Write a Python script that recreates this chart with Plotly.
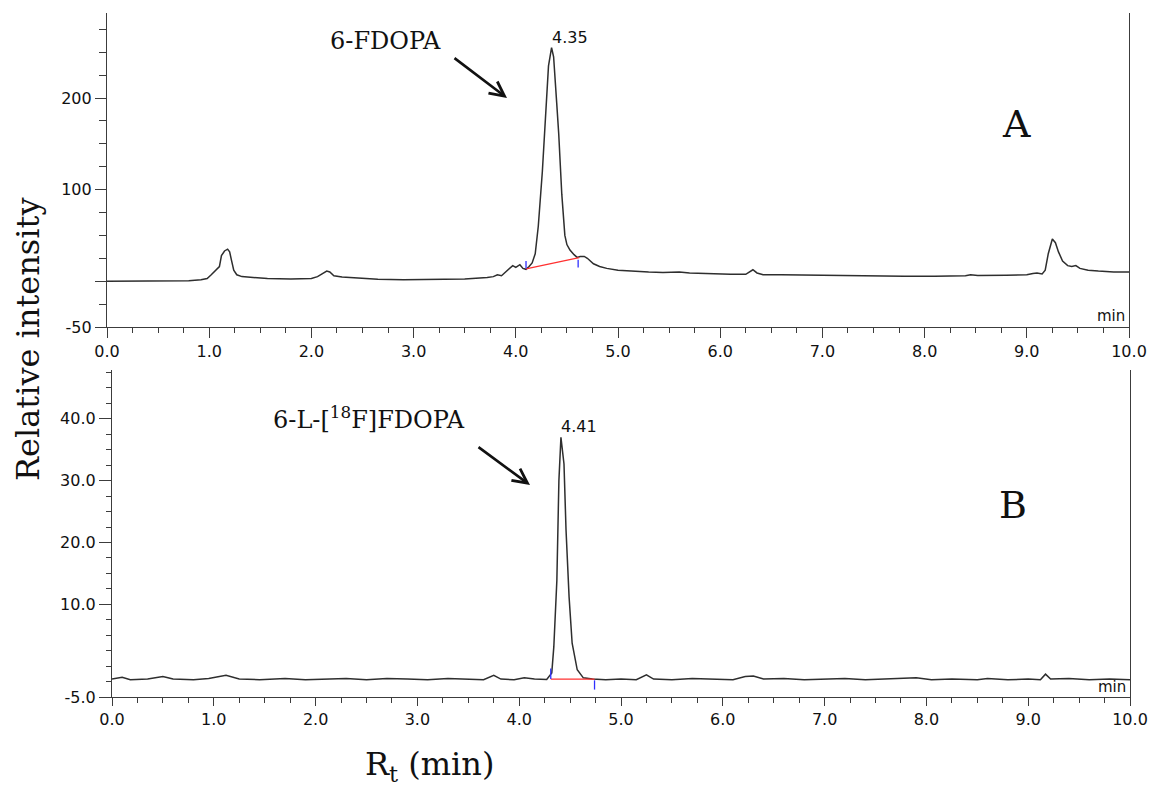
import plotly.graph_objects as go

W, H = 1151, 787

# ---------------- data ----------------
# Panel A: 6-FDOPA reference chromatogram
a_time = [0.00, 0.30, 0.60, 0.80, 0.92, 0.98, 1.02, 1.05, 1.08, 1.10, 1.12, 1.15, 1.18, 1.20,
          1.22, 1.24, 1.27, 1.32, 1.43, 1.57, 1.80, 2.00, 2.06, 2.10, 2.15, 2.18, 2.22, 2.30,
          2.45, 2.65, 2.90, 3.10, 3.30, 3.50, 3.62, 3.72, 3.78, 3.82, 3.86, 3.90, 3.93, 3.97,
          4.00, 4.04, 4.07, 4.10, 4.13, 4.16, 4.19, 4.22, 4.26, 4.29, 4.32, 4.35, 4.37, 4.40,
          4.42, 4.45, 4.48, 4.50, 4.53, 4.57, 4.60, 4.63, 4.67, 4.70, 4.76, 4.82, 4.89, 5.00,
          5.12, 5.30, 5.44, 5.60, 5.70, 5.90, 6.10, 6.25, 6.29, 6.32, 6.36, 6.42, 6.60, 6.90,
          7.20, 7.50, 7.80, 8.10, 8.40, 8.45, 8.52, 8.80, 9.00, 9.06, 9.10, 9.15, 9.18, 9.21,
          9.25, 9.28, 9.31, 9.35, 9.40, 9.44, 9.48, 9.52, 9.60, 9.70, 9.85, 10.00]
a_signal = [0.0, 0.0, 0.0, 0.5, 1.5, 3, 7, 10, 13, 16, 28, 33, 35, 32,
            22, 12, 7, 5, 4, 3, 2.5, 3, 5, 8, 11, 10, 6, 4.5,
            3.5, 2, 1.5, 1.5, 2, 2.5, 3, 4, 5, 7, 6, 10, 13, 17,
            15, 18, 14, 13, 16, 20, 30, 60, 120, 178, 235, 255, 245, 195,
            161, 95, 50, 40, 34, 29, 26, 27, 27, 25, 19, 16, 14, 12,
            11, 10, 9.5, 10, 9, 8, 7.5, 7.5, 10, 12.5, 9, 7, 7, 6.5,
            6, 6, 5.5, 5.5, 6, 7, 6.2, 6.5, 7, 8.5, 9, 8, 12, 30,
            46, 42, 32, 22, 17, 16, 17, 14, 12, 11, 10, 10]

# Panel B: 6-L-[18F]FDOPA radio chromatogram
b_time = [0.00, 0.10, 0.18, 0.35, 0.50, 0.60, 0.80, 0.95, 1.12, 1.25, 1.45, 1.70, 1.90, 2.10,
          2.30, 2.50, 2.70, 2.90, 3.10, 3.30, 3.50, 3.65, 3.75, 3.82, 3.95, 4.05, 4.15, 4.27,
          4.32, 4.34, 4.37, 4.39, 4.41, 4.44, 4.46, 4.49, 4.52, 4.57, 4.63, 4.72, 4.85, 5.00,
          5.15, 5.25, 5.32, 5.50, 5.70, 5.90, 6.10, 6.22, 6.30, 6.40, 6.60, 6.80, 7.00, 7.20,
          7.40, 7.60, 7.75, 7.90, 8.05, 8.25, 8.50, 8.60, 8.80, 9.00, 9.12, 9.17, 9.22, 9.40,
          9.60, 9.80, 10.00]
b_signal = [-2.1, -1.8, -2.2, -2.1, -1.7, -2.1, -2.2, -2.0, -1.5, -2.1, -2.2, -2.0, -2.2, -2.1,
            -2.0, -2.2, -2.0, -2.1, -2.2, -2.0, -2.1, -2.2, -1.5, -2.1, -2.2, -1.9, -2.1, -2.15,
            -1.1, 3.1, 13.9, 30.0, 37.0, 32.7, 22.0, 11.2, 3.7, -0.6, -1.9, -2.1, -2.2, -2.1,
            -2.2, -1.4, -2.1, -2.2, -2.0, -2.1, -2.2, -1.7, -1.6, -2.1, -2.0, -2.2, -2.1, -2.0,
            -2.2, -2.1, -2.0, -1.9, -2.2, -2.1, -2.2, -2.0, -2.2, -2.1, -2.2, -1.3, -2.1, -2.0,
            -2.2, -2.1, -2.2]

# integration baselines (start, end) and delimiter marks
a_base_t = [4.10, 4.62]
a_base_v = [13.5, 25.7]
a_mark_t = [4.10, 4.10, None, 4.61, 4.61]
a_mark_v = [14.0, 22.0, None, 23.5, 15.0]

b_base_t = [4.31, 4.74]
b_base_v = [-2.1, -2.1]
b_mark_t = [4.31, 4.31, None, 4.74, 4.74]
b_mark_v = [-2.1, -0.4, None, -2.3, -3.8]

x_ticks = [0, 1, 2, 3, 4, 5, 6, 7, 8, 9, 10]
x_labels = ["0.0", "1.0", "2.0", "3.0", "4.0", "5.0", "6.0", "7.0", "8.0", "9.0", "10.0"]
a_yticks = [-50, 0, 100, 200]
a_ylabels = ["-50", "", "100", "200"]
b_yticks = [-5, 10, 20, 30, 40]
b_ylabels = ["-5.0", "10.0", "20.0", "30.0", "40.0"]

peak_a = (4.35, 255)
peak_b = (4.41, 37.0)

# ---------------- figure ----------------
def px(x):
    return x / W

def py(y):
    return 1 - y / H

AX = "#3c3c3c"
TR = "#2e2e2e"
tickfont = dict(family="DejaVu Sans", size=16, color="#111111")

fig = go.Figure()
fig.add_trace(go.Scatter(x=a_time, y=a_signal, mode="lines", line=dict(color=TR, width=1.5),
                         xaxis="x", yaxis="y", hoverinfo="skip"))
fig.add_trace(go.Scatter(x=a_base_t, y=a_base_v, mode="lines", line=dict(color="#ff3030", width=1.3),
                         xaxis="x", yaxis="y"))
fig.add_trace(go.Scatter(x=a_mark_t, y=a_mark_v, mode="lines", line=dict(color="#2f2fff", width=1.3),
                         xaxis="x", yaxis="y"))
fig.add_trace(go.Scatter(x=b_time, y=b_signal, mode="lines", line=dict(color=TR, width=1.5),
                         xaxis="x2", yaxis="y2", hoverinfo="skip"))
fig.add_trace(go.Scatter(x=b_base_t, y=b_base_v, mode="lines", line=dict(color="#ff3030", width=1.3),
                         xaxis="x2", yaxis="y2"))
fig.add_trace(go.Scatter(x=b_mark_t, y=b_mark_v, mode="lines", line=dict(color="#2f2fff", width=1.3),
                         xaxis="x2", yaxis="y2"))

common_x = dict(range=[0, 10], tickmode="array", tickvals=x_ticks, ticktext=x_labels,
                ticks="outside", tickwidth=1.2, tickcolor=AX, showline=True, linecolor=AX,
                linewidth=1.2, showgrid=False, zeroline=False, tickfont=tickfont, automargin=False)

fig.update_layout(
    width=W, height=H, margin=dict(l=0, r=0, t=0, b=0, autoexpand=False),
    paper_bgcolor="white", plot_bgcolor="white", showlegend=False,
    xaxis=dict(domain=[px(107), px(1129)], anchor="y", ticklen=10,
               minor=dict(dtick=0.25, tick0=0, ticks="outside", ticklen=5, tickcolor=AX, tickwidth=1.2),
               **common_x),
    yaxis=dict(domain=[py(327), py(13)], anchor="x", range=[-50, 292.8], tickmode="array",
               tickvals=a_yticks, ticktext=a_ylabels, ticks="outside", ticklen=11, tickwidth=1.2,
               tickcolor=AX, showline=True, mirror=True, linecolor=AX, linewidth=1.2,
               showgrid=False, zeroline=False, tickfont=tickfont, automargin=False,
               minor=dict(dtick=25, tick0=0, ticks="outside", ticklen=7, tickcolor=AX, tickwidth=1.2)),
    xaxis2=dict(domain=[px(112), px(1130)], anchor="y2", ticklen=8,
                minor=dict(dtick=0.25, tick0=0, ticks="outside", ticklen=5, tickcolor=AX, tickwidth=1.2),
                **common_x),
    yaxis2=dict(domain=[py(697), py(370)], anchor="x2", range=[-5, 47.9], tickmode="array",
                tickvals=b_yticks, ticktext=b_ylabels, ticks="outside", ticklen=12, tickwidth=1.2,
                tickcolor=AX, showline=True, mirror=True, linecolor=AX, linewidth=1.2,
                showgrid=False, zeroline=False, tickfont=tickfont, automargin=False,
                minor=dict(dtick=2.5, tick0=0, ticks="outside", ticklen=5, tickcolor=AX, tickwidth=1.2)),
)

serif = "DejaVu Serif"
ann = []
# peak retention-time labels
ann.append(dict(x=peak_a[0], y=peak_a[1], xref="x", yref="y", text=f"{peak_a[0]:.2f}",
                showarrow=False, xanchor="left", yanchor="bottom", xshift=-2, yshift=-1,
                font=dict(family="DejaVu Sans", size=16, color="#111")))
ann.append(dict(x=peak_b[0], y=peak_b[1], xref="x2", yref="y2", text=f"{peak_b[0]:.2f}",
                showarrow=False, xanchor="left", yanchor="bottom", xshift=-2, yshift=-1,
                font=dict(family="DejaVu Sans", size=16, color="#111")))
# "min" unit labels
ann.append(dict(x=px(1127), y=py(316), xref="paper", yref="paper", text="min", showarrow=False,
                xanchor="right", yanchor="middle", font=dict(family="DejaVu Sans", size=15, color="#111")))
ann.append(dict(x=px(1128), y=py(687), xref="paper", yref="paper", text="min", showarrow=False,
                xanchor="right", yanchor="middle", font=dict(family="DejaVu Sans", size=15, color="#111")))
# compound labels
ann.append(dict(x=px(385), y=py(41), xref="paper", yref="paper", text="6-FDOPA", showarrow=False,
                xanchor="center", yanchor="middle", font=dict(family=serif, size=24, color="#111")))
ann.append(dict(x=px(369), y=py(418), xref="paper", yref="paper", text="6-L-[<sup>18</sup>F]FDOPA",
                showarrow=False, xanchor="center", yanchor="middle",
                font=dict(family=serif, size=24, color="#111")))
# arrows
ann.append(dict(x=px(507), y=py(98), xref="paper", yref="paper", ax=-54, ay=-41, text="",
                showarrow=True, arrowhead=5, arrowsize=1.1, arrowwidth=2.6, arrowcolor="#111"))
ann.append(dict(x=px(530), y=py(485), xref="paper", yref="paper", ax=-53, ay=-39, text="",
                showarrow=True, arrowhead=5, arrowsize=1.1, arrowwidth=2.6, arrowcolor="#111"))
# panel letters
ann.append(dict(x=px(1016), y=py(124), xref="paper", yref="paper", text="A", showarrow=False,
                xanchor="center", yanchor="middle", font=dict(family=serif, size=38, color="#111")))
ann.append(dict(x=px(1013), y=py(505), xref="paper", yref="paper", text="B", showarrow=False,
                xanchor="center", yanchor="middle", font=dict(family=serif, size=38, color="#111")))
# axis titles
ann.append(dict(x=px(28), y=py(340), xref="paper", yref="paper", text="Relative intensity",
                showarrow=False, textangle=-90, xanchor="center", yanchor="middle",
                font=dict(family=serif, size=32, color="#111")))
ann.append(dict(x=px(430), y=py(766), xref="paper", yref="paper", text="R<sub>t</sub> (min)",
                showarrow=False, xanchor="center", yanchor="middle",
                font=dict(family=serif, size=32, color="#111")))
fig.update_layout(annotations=ann)

fig.write_html("out.html", config={"displayModeBar": False},
               post_script="document.body.style.margin='0';document.body.style.overflow='hidden';")
